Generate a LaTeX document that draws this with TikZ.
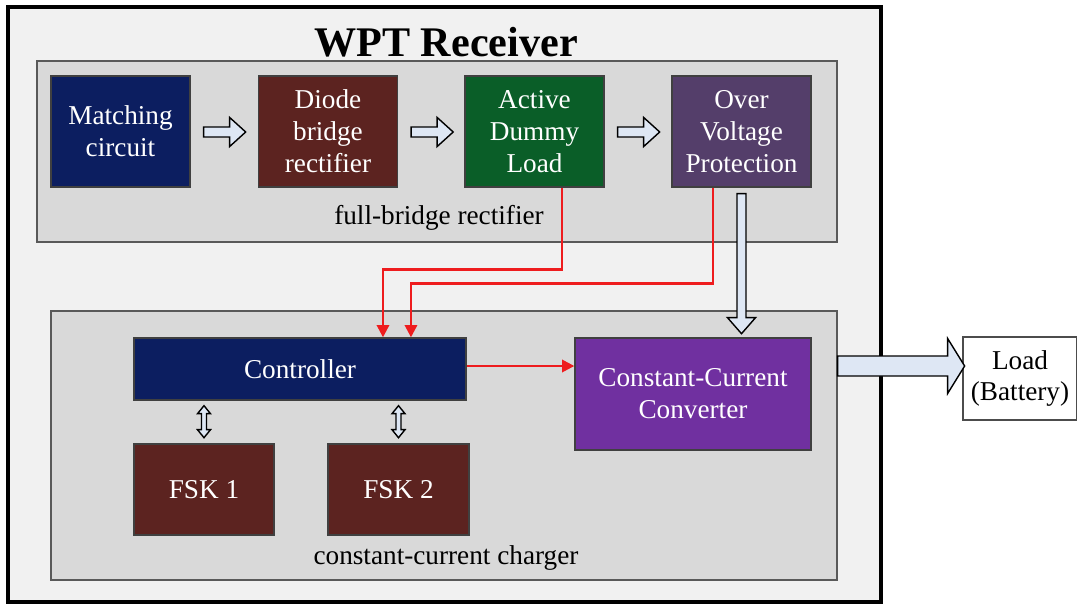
\documentclass[tikz,border=0pt]{standalone}
\usepackage{fontspec}
\setmainfont{Liberation Serif}
\usetikzlibrary{calc,arrows.meta}

\definecolor{outergray}{RGB}{241,241,241}
\definecolor{groupgray}{RGB}{217,217,217}
\definecolor{arrowfill}{RGB}{222,231,244}
\definecolor{sigred}{RGB}{238,28,30}
\definecolor{navyblk}{RGB}{12,30,96}
\definecolor{brownblk}{RGB}{92,35,32}
\definecolor{greenblk}{RGB}{10,94,40}
\definecolor{plumblk}{RGB}{84,62,106}
\definecolor{violetblk}{RGB}{112,48,160}

% hollow block arrows: start point, length, shaft half width, head half width, head length
\newcommand{\fatarrowR}[5]{%
  \draw[hollow] ($(#1)+(0,-#3)$) -- ++(#2-#5,0) -- ++(0,#3-#4) -- ++(#5,#4)
    -- ++(-#5,#4) -- ++(0,#3-#4) -- ++(-#2+#5,0) -- cycle;}
\newcommand{\fatarrowD}[5]{%
  \draw[hollow] ($(#1)+(-#3,0)$) -- ++(0,#2-#5) -- ++(#3-#4,0) -- ++(#4,#5)
    -- ++(#4,-#5) -- ++(#3-#4,0) -- ++(0,-#2+#5) -- cycle;}
\newcommand{\fatarrowUD}[5]{%
  \draw[hollow] (#1) -- ++(#4,#5) -- ++(#3-#4,0) -- ++(0,#2-2*#5) -- ++(#4-#3,0)
    -- ++(-#4,#5) -- ++(-#4,-#5) -- ++(#4-#3,0) -- ++(0,-#2+2*#5) -- ++(#3-#4,0) -- cycle;}

\begin{document}
\begin{tikzpicture}[x=0.02cm,y=-0.02cm,
    blk/.style={draw=black!75,line width=0.8pt,text=white,align=center,inner sep=0pt,
      font=\fontsize{15.5}{18.2}\selectfont},
    grp/.style={draw=black!65,line width=0.8pt,fill=groupgray},
    lbl/.style={font=\fontsize{15.5}{18.2}\selectfont},
    hollow/.style={draw=black,line width=0.8pt,fill=arrowfill},
    sig/.style={draw=sigred,line width=1.4pt,-{Triangle[length=7pt,width=7pt]}}]

    \useasboundingbox (0,0) rectangle (1077,604);

    \node[draw=black,line width=2pt,fill=outergray,minimum width=17.46cm,minimum height=11.9cm] (frame) at (444.5,304.5) {};
    \node[font=\fontsize{24}{28}\selectfont\bfseries] (title) at (446,42) {WPT Receiver};

    \node[grp,minimum width=16cm,minimum height=3.62cm] (rect) at (437,151.5) {};
    \node[grp,minimum width=15.72cm,minimum height=5.38cm] (charger) at (444,445.5) {};
    \node[lbl] (rectlabel) at (439,218) {full-bridge rectifier};
    \node[lbl] (chargerlabel) at (446,558) {constant-current charger};

    \node[blk,fill=navyblk,minimum width=2.78cm,minimum height=2.22cm] (match) at (120.5,131.5) {Matching\\circuit};
    \node[blk,fill=brownblk,minimum width=2.78cm,minimum height=2.22cm] (diode) at (328,131.5) {Diode\\bridge\\rectifier};
    \node[blk,fill=greenblk,minimum width=2.78cm,minimum height=2.22cm] (adl) at (534.5,131.5) {Active\\Dummy\\Load};
    \node[blk,fill=plumblk,minimum width=2.78cm,minimum height=2.22cm] (ovp) at (741.5,131.5) {Over\\Voltage\\Protection};

    \node[blk,fill=navyblk,minimum width=6.64cm,minimum height=1.24cm] (ctrl) at (300,369) {Controller};
    \node[blk,fill=violetblk,minimum width=4.72cm,minimum height=2.24cm] (ccc) at (693,394) {Constant-Current\\Converter};
    \node[blk,fill=brownblk,minimum width=2.8cm,minimum height=1.82cm] (fsk1) at (204,489.5) {FSK 1};
    \node[blk,fill=brownblk,minimum width=2.82cm,minimum height=1.82cm] (fsk2) at (398.5,489.5) {FSK 2};

    \node[blk,draw=black!70,fill=white,text=black,minimum width=2.28cm,minimum height=1.66cm] (load) at (1020,378.5) {Load\\(Battery)};

    % power path
    \coordinate (h1) at ($(match.east)+(13,0.5)$);
    \coordinate (h2) at ($(diode.east)+(13,0.5)$);
    \coordinate (h3) at ($(adl.east)+(13,0.5)$);
    \coordinate (v1) at ($(ovp.south)+(0,6)$);
    \coordinate (b1) at ($(charger.east |- ctrl.east)+(0,-3)$);
    \fatarrowR{h1}{42}{5}{14.5}{16}
    \fatarrowR{h2}{42}{5}{14.5}{16}
    \fatarrowR{h3}{42}{5}{14.5}{16}
    \fatarrowD{v1}{140}{4.5}{14}{16}
    \fatarrowR{b1}{127}{10}{27.5}{17}

    % FSK links
    \coordinate (d1) at ($(fsk1.north |- ctrl.south)+(0,5)$);
    \coordinate (d2) at ($(fsk2.north |- ctrl.south)+(0,5)$);
    \fatarrowUD{d1}{32}{2.5}{6.5}{8}
    \fatarrowUD{d2}{32}{2.5}{6.5}{8}

    % control signals
    \draw[sig] ([xshift=0.55cm]adl.south) -- ++(0,82) -| ([xshift=1.66cm]ctrl.north);
    \draw[sig] ([xshift=-0.57cm]ovp.south) -- ++(0,96) -| ([xshift=2.22cm]ctrl.north);
    \draw[sig] ($(ctrl.east)+(0,-3)$) -- ($(ctrl.east -| ccc.west)+(0,-3)$);
\end{tikzpicture}
\end{document}
